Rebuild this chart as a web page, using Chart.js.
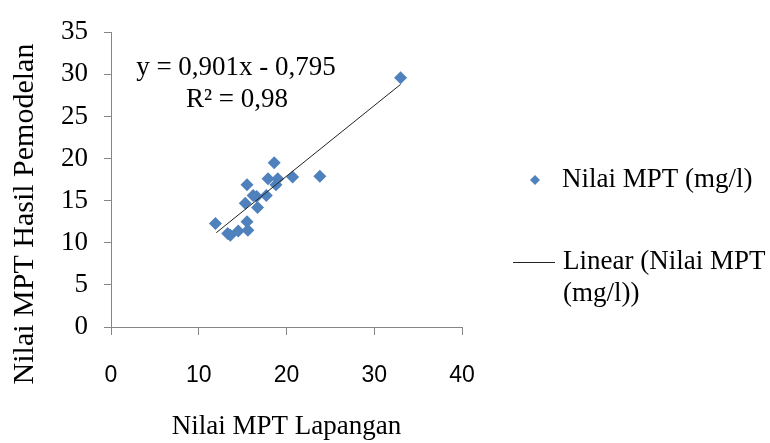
<!DOCTYPE html>
<html>
<head>
<meta charset="utf-8">
<style>
  html, body { margin: 0; padding: 0; background: #fff; }
  canvas { display: block; }
</style>
<script src="https://cdn.jsdelivr.net/npm/chart.js@4/dist/chart.umd.min.js"></script>
</head>
<body>
<canvas id="c" width="770" height="443"></canvas>
<script>
// ---- data ----
const xValues = [11.9, 13.3, 13.6, 14.5, 15.5, 15.6, 15.3, 15.5, 16.2, 16.6, 16.7, 17.7, 17.9, 18.6, 18.8, 19.0, 20.7, 23.8, 33.0];
const yValues = [12.3, 11.1, 10.9, 11.4, 12.5, 11.5, 14.7, 16.9, 15.6, 15.5, 14.2, 15.6, 17.6, 19.5, 16.9, 17.6, 17.8, 17.9, 29.6];
const trendX = [12.0, 33.0];
const trendY = [11.2, 28.8];
const xTickValues = [0, 10, 20, 30, 40];
const yTickValues = [0, 5, 10, 15, 20, 25, 30, 35];
const seriesLabel = 'Nilai MPT (mg/l)';
const trendLabelLines = ['Linear (Nilai MPT', '(mg/l))'];
const equationLines = ['y = 0,901x - 0,795', 'R\u00b2 = 0,98'];
const xTitle = 'Nilai MPT Lapangan';
const yTitle = 'Nilai MPT Hasil Pemodelan';

const SERIF = '"Liberation Serif", "Times New Roman", serif';
const SANS = '"Liberation Sans", Arial, sans-serif';
const BLUE = '#4F81BD';
const AXIS = '#868686';

const points = xValues.map((x, i) => ({ x: x, y: yValues[i] }));
const trend = trendX.map((x, i) => ({ x: x, y: trendY[i] }));

const extras = {
  id: 'extras',
  afterDraw(chart) {
    const ctx = chart.ctx;
    ctx.save();
    ctx.fillStyle = '#000';
    // equation annotation
    ctx.font = '27px ' + SERIF;
    ctx.textAlign = 'center';
    ctx.textBaseline = 'middle';
    ctx.fillText(equationLines[0], 236, 68);
    ctx.fillText(equationLines[1], 237, 100);
    // y axis title
    ctx.save();
    ctx.font = '30px ' + SERIF;
    ctx.translate(25, 214);
    ctx.rotate(-Math.PI / 2);
    ctx.fillText(yTitle, 0, 0);
    ctx.restore();
    // legend
    const ds0 = chart.data.datasets[0];
    const ds1 = chart.data.datasets[1];
    ctx.fillStyle = ds0.backgroundColor;
    ctx.beginPath();
    const cx = 535, cy = 180, r = 5;
    ctx.moveTo(cx, cy - r); ctx.lineTo(cx + r, cy); ctx.lineTo(cx, cy + r); ctx.lineTo(cx - r, cy);
    ctx.closePath(); ctx.fill();
    ctx.strokeStyle = ds1.borderColor;
    ctx.lineWidth = 1;
    ctx.beginPath(); ctx.moveTo(513, 262.5); ctx.lineTo(555, 262.5); ctx.stroke();
    ctx.fillStyle = '#000';
    ctx.textAlign = 'left';
    ctx.fillText(ds0.label, 562, 180);
    ctx.fillText(trendLabelLines[0], 563, 262);
    ctx.fillText(trendLabelLines[1], 563, 294);
    ctx.restore();
  }
};

new Chart(document.getElementById('c'), {
  type: 'scatter',
  data: {
    datasets: [
      {
        label: seriesLabel,
        data: points,
        pointStyle: 'rectRot',
        pointRadius: 6.5,
        backgroundColor: BLUE,
        borderColor: BLUE,
        borderWidth: 0,
        order: 1
      },
      {
        label: trendLabelLines.join(' '),
        data: trend,
        type: 'line',
        showLine: true,
        borderColor: '#222',
        borderWidth: 1,
        pointRadius: 0,
        fill: false,
        order: 0
      }
    ]
  },
  plugins: [extras],
  options: {
    responsive: false,
    animation: false,
    devicePixelRatio: 1,
    layout: { padding: { left: 0, top: 26, right: 308, bottom: 0 } },
    plugins: {
      legend: { display: false },
      tooltip: { enabled: false }
    },
    scales: {
      x: {
        type: 'linear',
        min: 0, max: 40,
        afterFit(s) { s.height = 116; },
        afterBuildTicks(s) { s.ticks = xTickValues.map(v => ({ value: v })); },
        border: { color: AXIS, width: 1 },
        grid: { drawOnChartArea: false, color: AXIS, tickLength: 8 },
        ticks: { color: '#000', font: { family: SANS, size: 23 }, padding: 27, maxRotation: 0 },
        title: { display: true, text: xTitle, color: '#000', font: { family: SERIF, size: 27 }, padding: { top: 0, bottom: 0 } }
      },
      y: {
        type: 'linear',
        min: 0, max: 35,
        afterFit(s) { s.width = 111; },
        afterBuildTicks(s) { s.ticks = yTickValues.map(v => ({ value: v })); },
        border: { color: AXIS, width: 1 },
        grid: { drawOnChartArea: false, color: AXIS, tickLength: 7 },
        ticks: { color: '#000', font: { family: SERIF, size: 27 }, padding: 16 }
      }
    }
  }
});
</script>
</body>
</html>
